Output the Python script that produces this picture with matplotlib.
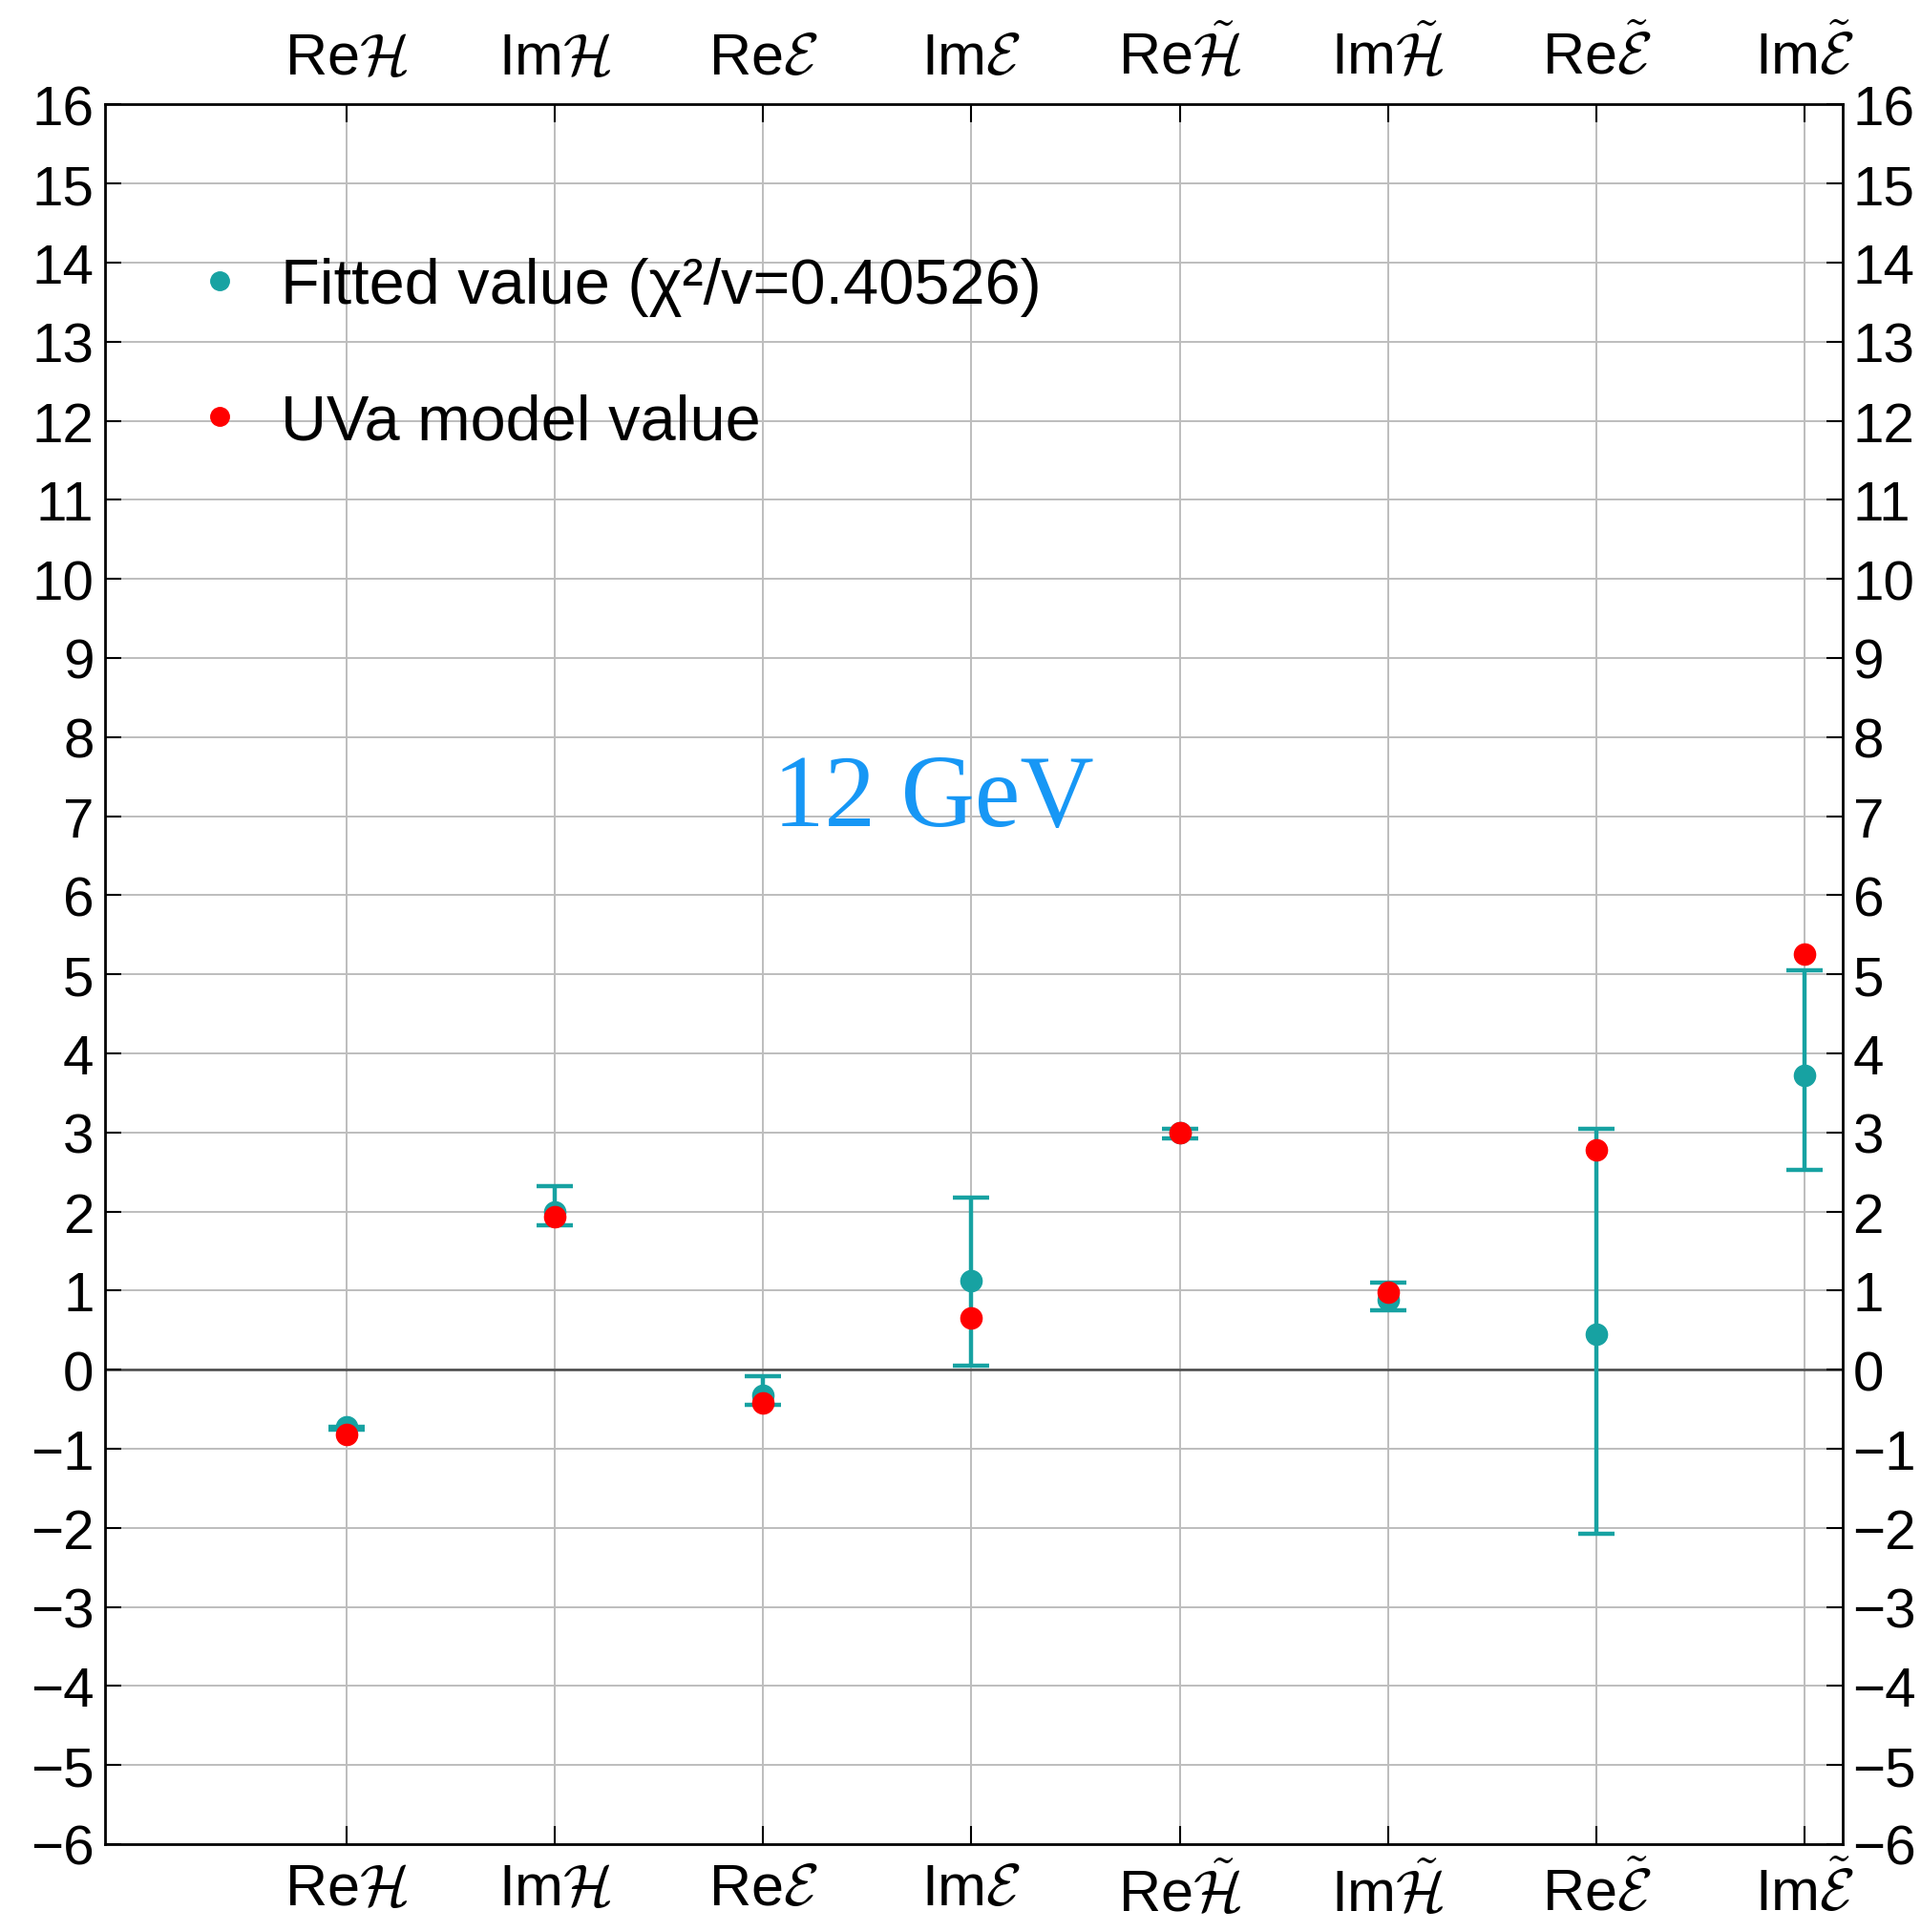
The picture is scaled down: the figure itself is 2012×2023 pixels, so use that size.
import numpy as np
import matplotlib
matplotlib.use("Agg")
import matplotlib.pyplot as plt
from matplotlib.lines import Line2D

plt.rcParams["font.family"] = ["Liberation Sans", "DejaVu Sans"]
plt.rcParams["mathtext.fontset"] = "cm"

# category labels (same on top and bottom axes)
labels = [r"Re$\mathcal{H}$", r"Im$\mathcal{H}$", r"Re$\mathcal{E}$", r"Im$\mathcal{E}$",
          r"Re$\tilde{\mathcal{H}}$", r"Im$\tilde{\mathcal{H}}$",
          r"Re$\tilde{\mathcal{E}}$", r"Im$\tilde{\mathcal{E}}$"]

# fitted values with lower / upper error bar ends
fitted = [-0.72, 2.00, -0.33, 1.12, 3.00, 0.88, 0.45, 3.72]
err_low = [-0.76, 1.82, -0.45, 0.05, 2.93, 0.75, -2.08, 2.52]
err_high = [-0.74, 2.32, -0.08, 2.18, 3.05, 1.10, 3.05, 5.05]

# UVa model values
model = [-0.82, 1.93, -0.42, 0.65, 3.00, 0.98, 2.78, 5.25]

chi2 = 0.40526

teal = "#17a2a2"
red = "#ff0000"

x = np.arange(1, len(labels) + 1)
fitted = np.array(fitted)
yerr = np.vstack([fitted - np.array(err_low), np.array(err_high) - fitted])
yerr = np.clip(yerr, 0, None)

fig = plt.figure(figsize=(20.12, 20.24), dpi=100)
ax = fig.add_axes([0.0545, 0.0455, 0.9045, 0.900])

ax.set_xlim(-0.16, 8.18)
ax.set_ylim(-6, 16)

# grid
for xi in x:
    ax.axvline(xi, color="#bdbdbd", lw=1.4, zorder=0)
for yi in range(-6, 17):
    ax.axhline(yi, color="#bdbdbd", lw=1.4, zorder=0)
ax.axhline(0, color="#4a4a4a", lw=1.8, zorder=1)

ax.errorbar(x, fitted, yerr=yerr, fmt="o", color=teal, ms=16, elinewidth=3.2,
            capsize=14, capthick=3.2, zorder=3)
ax.plot(x, model, "o", color=red, ms=16, zorder=4, ls="none")

handles = [Line2D([], [], marker="o", ls="none", color=teal, ms=14),
           Line2D([], [], marker="o", ls="none", color=red, ms=14)]
leg_labels = ["Fitted value (χ²/v=%.5f)" % chi2, "UVa model value"]
ax.legend(handles, leg_labels, loc="upper left", bbox_to_anchor=(0.015, 0.945),
          frameon=False, fontsize=48, handletextpad=0.45, labelspacing=1.2,
          handlelength=1.0)

ax.text(3.82, 7.2, "12 GeV", color="#1797f5", fontsize=77, ha="center", va="center",
        family=["Liberation Serif", "DejaVu Serif"])

ax.set_xticks(x)
ax.set_xticklabels(labels)
ax.set_yticks(np.arange(-6, 17, 1))
ax.tick_params(axis="x", which="both", direction="in", length=14, width=1.5,
               top=True, bottom=True, labeltop=True, labelbottom=True,
               labelsize=44, pad=14)
ax.tick_params(axis="y", which="both", direction="in", length=12, width=1.5,
               left=True, right=True, labelleft=True, labelright=True,
               labelsize=42, pad=8)

for s in ax.spines.values():
    s.set_linewidth(2)
    s.set_color("black")

fig.savefig("out.png", dpi=100)
